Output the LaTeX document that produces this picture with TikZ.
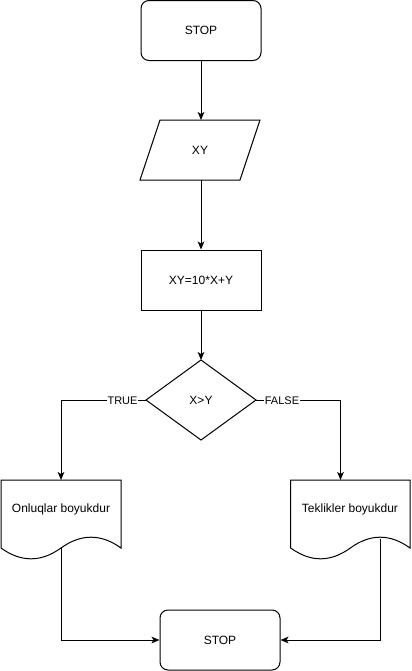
\documentclass[tikz,border=0pt]{standalone}
\usepackage{fontspec}
\setmainfont{Liberation Sans}
\usetikzlibrary{arrows.meta}
\begin{document}
\begin{tikzpicture}[x=0.75pt,y=-0.75pt,
  font=\fontsize{9pt}{11pt}\selectfont,
  line width=0.75pt,
  box/.style={draw, minimum width=90pt, minimum height=45pt, inner sep=0pt},
  term/.style={box, rounded corners=6pt},
  txt/.style={inner sep=0pt},
  lbl/.style={fill=white, inner sep=0.5pt, font=\fontsize{8.25pt}{10pt}\selectfont},
  conn/.style={-{Stealth[length=6pt,width=5pt,inset=1.5pt]}}]
\useasboundingbox (0,0) rectangle (411,671);
% top STOP
\node[term] (stop1) at (201,30.5) {STOP};
% parallelogram
\draw (160,120) -- (260,120) -- (240,180) -- (140,180) -- cycle;
\node[txt] (xy) at (200,150) {XY};
\coordinate (xytop) at (201,120);
\coordinate (xybot) at (201,180);
% rect
\node[box] (calc) at (201,280) {XY=10*X+Y};
% diamond
\draw (201,360) -- (256,400) -- (201,440) -- (146,400) -- cycle;
\node[txt] (cond) at (201,400) {X>Y};
\coordinate (dtop) at (201,360);
\coordinate (dleft) at (146,400);
\coordinate (dright) at (256,400);
% documents
\draw (1,480) -- (121,480) -- (121,548)
  .. controls (101,533.6) and (81,533.6) .. (61,548)
  .. controls (41,562.4) and (21,562.4) .. (1,548) -- cycle;
\node[txt] (doc1) at (61,509) {Onluqlar boyukdur};
\coordinate (d1top) at (61,480);
\coordinate (d1bot) at (61,548);
\draw (290.7,480) -- (410,480) -- (410,548)
  .. controls (390.1,533.6) and (370.2,533.6) .. (350.35,548)
  .. controls (330.5,562.4) and (310.6,562.4) .. (290.7,548) -- cycle;
\node[txt] (doc2) at (350,509) {Teklikler boyukdur};
\coordinate (d2top) at (340.5,480);
\coordinate (d2bot) at (380,538.5);
% bottom STOP
\node[term] (stop2) at (220,640) {STOP};
% connectors
\draw[conn] (stop1.south) -- (xytop);
\draw[conn] (xybot) -- (calc.north);
\draw[conn] (calc.south) -- (dtop);
\draw[conn] (dleft) -- (61,400) -- (d1top);
\draw[conn] (dright) -- (340.5,400) -- (d2top);
\node[lbl] (ltrue) at (122.5,400.5) {TRUE};
\node[lbl] (lfalse) at (282,401) {FALSE};
\draw[conn] (d1bot) -- (61,640) -- (stop2.west);
\draw[conn] (d2bot) -- (380,640) -- (stop2.east);
\end{tikzpicture}
\end{document}
